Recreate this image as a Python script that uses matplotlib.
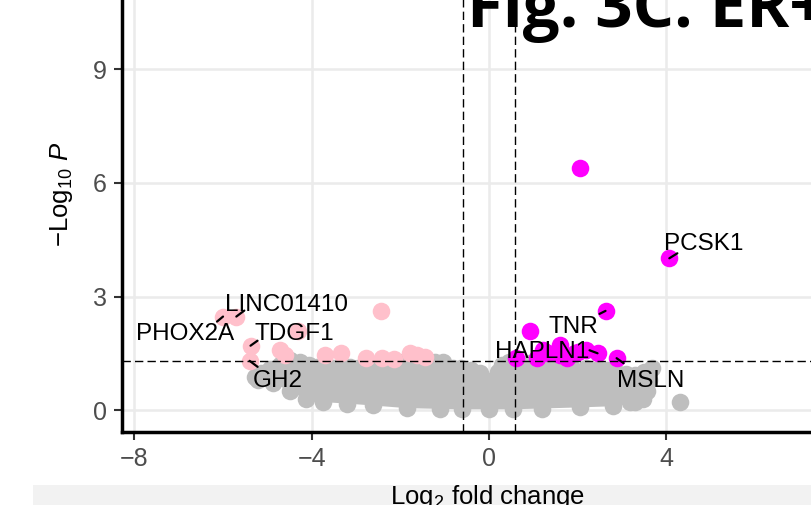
import matplotlib
matplotlib.use("Agg")
import matplotlib.pyplot as plt
from matplotlib.patches import Rectangle, Polygon

# ── Style ─────────────────────────────────────────────────────────────────────

matplotlib.rcParams.update({
    "font.family":      "Liberation Sans",
    "mathtext.fontset": "custom",
    "mathtext.rm":      "Liberation Sans",
    "mathtext.it":      "Liberation Sans:italic",
    "figure.dpi":       100,
})

GREY    = "#BEBEBE"
PINK    = "#FFC0CB"
MAGENTA = "#FF00FF"
TICK_COLOUR = "#4D4D4D"
DOT_SIZE = 160

P_CUTOFF  = 1.301    # -log10(0.05)
FC_CUTOFF = 0.585    # log2(1.5)

# ── Data ──────────────────────────────────────────────────────────────────────

# outline of the dense non-significant cloud: upper edge left -> right
grey_top_x = [-5.28, -5.15, -4.95, -4.72, -4.49, -4.27, -4.05, -3.89, -3.70,
              -3.52, -3.33, -3.14, -2.95, -2.76, -2.60, -2.46, -2.30, -2.17,
              -1.95, -1.71, -1.55, -1.41, -1.22, -1.04, -0.81, -0.62, -0.40,
              -0.20, -0.08, 0.00, 0.09, 0.20, 0.30, 0.45, 0.65, 0.93, 1.15,
              1.40, 1.60, 1.85, 2.20, 2.45, 2.66, 2.90, 3.10, 3.30, 3.50, 3.67,
              3.60, 3.56, 3.48]
grey_top_y = [0.86, 0.98, 1.08, 1.20, 1.32, 1.28, 1.20, 1.15, 1.13,
              1.11, 1.17, 1.15, 1.12, 1.11, 1.00, 1.11, 1.15, 1.19,
              1.28, 1.41, 1.30, 1.24, 1.26, 1.28, 1.11, 1.10, 1.06,
              0.98, 0.70, 0.44, 0.79, 1.01, 1.20, 1.28, 1.26, 1.24, 1.20,
              1.18, 1.15, 1.14, 1.10, 1.08, 1.06, 0.98, 0.95, 0.93, 1.00, 1.11,
              0.80, 0.50, 0.30]
# lower edge right -> left
grey_bottom_x = [3.30, 3.18, 2.80, 2.05, 1.20, 0.54, 0.00, -0.60, -1.10,
                 -1.86, -2.62, -3.20, -3.75, -4.12, -4.49, -4.88, -5.20]
grey_bottom_y = [0.22, 0.20, 0.10, 0.07, 0.04, 0.02, 0.02, 0.02, 0.03,
                 0.05, 0.12, 0.17, 0.21, 0.28, 0.50, 0.72, 0.80]
grey_extra_x = [4.31]
grey_extra_y = [0.20]

# significant, down (pink)
pink_x = [-6.00, -5.70, -2.44, -4.30, -5.38, -5.40, -4.72, -4.60, -3.70,
          -3.33, -2.78, -2.42, -2.14, -1.78, -1.62, -1.44]
pink_y = [2.47, 2.47, 2.63, 2.10, 1.70, 1.30, 1.59, 1.45, 1.46,
          1.50, 1.38, 1.37, 1.35, 1.50, 1.46, 1.40]

# significant, up (magenta)
mag_x = [2.05, 4.07, 2.63, 0.93, 2.88, 2.45, 0.62, 1.08, 1.23, 1.34, 1.60,
         1.60, 1.75, 1.94, 2.02, 2.20]
mag_y = [6.39, 4.01, 2.62, 2.10, 1.37, 1.50, 1.37, 1.37, 1.59, 1.50, 1.72,
         1.45, 1.37, 1.50, 1.54, 1.59]

# labelled genes: point coordinates
genes   = ["LINC01410", "PHOX2A", "TDGF1", "GH2", "PCSK1", "TNR", "HAPLN1", "MSLN"]
gene_x  = [-5.70, -6.00, -5.38, -5.40, 4.07, 2.63, 2.45, 2.88]
gene_y  = [2.47, 2.47, 1.70, 1.30, 4.01, 2.62, 1.50, 1.37]

# label placement (text centre x, baseline y) and connector end (pixels from point)
LABEL_POS = [(-4.57, 2.62), (-6.86, 1.85), (-4.39, 1.85), (-4.77, 0.61),
             (4.84, 4.23), (1.90, 2.04), (1.21, 1.38), (3.65, 0.61)]
SEG_OFFSET = [(8, 6), (-6, -5), (7, 5), (8, -6),
              (8, 5), (-6, -3), (-8, 3), (7, -5)]

x_ticks = [-8, -4, 0, 4, 8]
y_ticks = [0, 3, 6, 9, 12]

# ── Figure ────────────────────────────────────────────────────────────────────

fig = plt.figure(figsize=(8.11, 5.05))
# the plot panel runs off the right and top edge of the screenshot
ax = fig.add_axes([0.1504, 0.1446, 0.905, 0.9426])

ax.set_xlim(-8.28, 8.28)
ax.set_ylim(-0.58, 12.0)
ax.set_xticks(x_ticks)
ax.set_yticks(y_ticks)
ax.grid(True, color="#EBEBEB", linewidth=1.8, zorder=0)
ax.set_axisbelow(True)

for side in ("top", "right"):
    ax.spines[side].set_visible(False)
for side in ("left", "bottom"):
    ax.spines[side].set_linewidth(2.5)
    ax.spines[side].set_color("black")

ax.tick_params(axis="both", length=6, width=1.5, color="#333333",
               labelsize=18, labelcolor=TICK_COLOUR, pad=5)

# non-significant cloud
outline_x = grey_top_x + grey_bottom_x
outline_y = grey_top_y + grey_bottom_y
ax.add_patch(Polygon(list(zip(outline_x, outline_y)), closed=True,
                     facecolor=GREY, edgecolor="none", zorder=2))
ax.scatter(outline_x + grey_extra_x, outline_y + grey_extra_y,
           s=DOT_SIZE, color=GREY, linewidths=0, zorder=2)

ax.scatter(pink_x, pink_y, s=DOT_SIZE, color=PINK, linewidths=0, zorder=3)
ax.scatter(mag_x, mag_y, s=DOT_SIZE, color=MAGENTA, linewidths=0, zorder=3)

# cut-off lines
dash = (0, (6, 3))
ax.axhline(P_CUTOFF, color="black", linewidth=1.0, linestyle=dash, zorder=4)
ax.axvline(-FC_CUTOFF, color="black", linewidth=1.0, linestyle=dash, zorder=4)
ax.axvline(FC_CUTOFF, color="black", linewidth=1.0, linestyle=dash, zorder=4)

# gene labels with short connectors
for name, px, py, (lx, ly), (dx, dy) in zip(genes, gene_x, gene_y,
                                            LABEL_POS, SEG_OFFSET):
    ax.text(lx, ly, name, ha="center", va="baseline", fontsize=17.5,
            color="black", zorder=5)
    ax.annotate("", xy=(px, py), xytext=(dx, dy), textcoords="offset pixels",
                arrowprops=dict(arrowstyle="-", color="black", lw=1.6,
                                shrinkA=0, shrinkB=0),
                zorder=5)

ax.set_xlabel(r"Log$_{2}$ fold change", fontsize=18.5, color="black")
ax.set_ylabel(r"$-$Log$_{10}$ $\mathit{P}$", fontsize=18.5, color="black")
ax.xaxis.set_label_coords(0.4986, -0.107)
ax.yaxis.set_label_coords(-0.064, 0.5)

# partially visible figure title
fig.text(0.576, 0.9465, "Fig. 3C. ER+", fontsize=47, fontweight="bold",
         family="Open Sans", ha="left", va="baseline", color="black")

# browser/screen strip along the bottom of the screenshot
fig.patches.append(Rectangle((33 / 811, 0), 1 - 33 / 811, 20 / 505,
                             transform=fig.transFigure, facecolor="#F2F2F2",
                             edgecolor="none", zorder=-1))

fig.savefig("out.png", dpi=100)
